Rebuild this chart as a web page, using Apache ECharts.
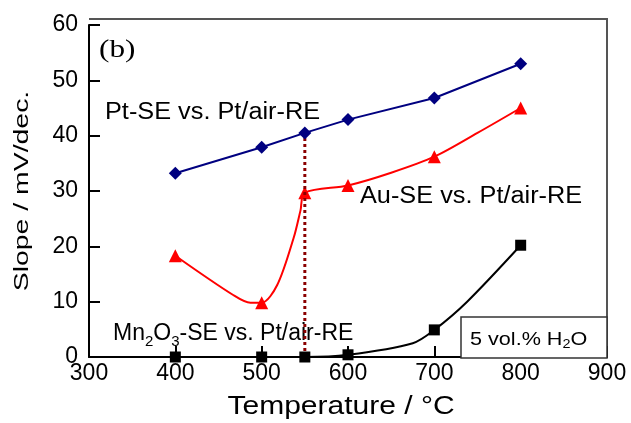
<!DOCTYPE html>
<html>
<head>
<meta charset="utf-8">
<script src="https://cdn.jsdelivr.net/npm/echarts@6/dist/echarts.min.js"></script>
<style>
  html, body { margin: 0; padding: 0; background: #fff; }
  #main { width: 631px; height: 423px; }
</style>
</head>
<body>
<div id="main"></div>
<script>
// measured points
var temps = [400, 500, 550, 600, 700, 800];
var ptSE = [33.2, 37.9, 40.5, 42.9, 46.8, 53.0];
var auSE = [18.3, 9.8, 29.7, 31.0, 36.2, 45.0];
var mnSE = [0.0, 0.0, 0.0, 0.4, 4.9, 20.2];

// extra points (no marker)
var auCurveT = [467, 487, 518, 537, 545, 650, 750];
var auCurveV = [11.2, 9.8, 13.0, 21.5, 26.5, 33.3, 40.5];
var mnCurveT = [675, 738];
var mnCurveV = [2.5, 10.0];

// dotted marker line at 550 C
var dotT = [550, 550];
var dotV = [0, 40.5];

function measured(vals) {
    return temps.map(function (t, i) { return [t, vals[i]]; });
}
function withCurve(vals, ct, cv) {
    var pts = measured(vals).map(function (p) { return { value: p }; });
    ct.forEach(function (t, i) {
        pts.push({ value: [t, cv[i]], symbol: 'none' });
    });
    pts.sort(function (a, b) { return a.value[0] - b.value[0]; });
    return pts;
}

var chartDom = document.getElementById('main');
var myChart = echarts.init(chartDom);
var option;

var font = 'Liberation Sans, Arial, sans-serif';

option = {
    animation: false,
    grid: {
        left: 89,
        right: 24,
        top: 25,
        bottom: 66
    },
    xAxis: {
        type: 'value',
        min: 300,
        max: 900,
        interval: 100,
        axisLine: { lineStyle: { color: '#000', width: 2 } },
        axisTick: { inside: true, length: 11, lineStyle: { color: '#000', width: 2 } },
        axisLabel: { fontFamily: font, fontSize: 23, color: '#000', margin: 5 },
        splitLine: { show: false }
    },
    yAxis: {
        type: 'value',
        min: 0,
        max: 60,
        interval: 10,
        axisLine: { lineStyle: { color: '#000', width: 2 } },
        axisTick: { inside: true, length: 11, lineStyle: { color: '#000', width: 2 } },
        axisLabel: { fontFamily: font, fontSize: 23, color: '#000', margin: 11 },
        splitLine: { show: false }
    },
    series: [
        {
            type: 'line',
            data: dotT.map(function (t, i) { return [t, dotV[i]]; }),
            symbol: 'none',
            lineStyle: { color: '#8B0000', width: 3, type: [3, 3] },
            z: 3
        },
        {
            type: 'line',
            data: measured(ptSE),
            symbol: 'diamond',
            symbolSize: 13,
            itemStyle: { color: '#000080' },
            lineStyle: { color: '#000080', width: 2 },
            clip: false,
            z: 4
        },
        {
            type: 'line',
            data: withCurve(auSE, auCurveT, auCurveV),
            smooth: 0.3,
            symbol: 'triangle',
            symbolSize: 13,
            itemStyle: { color: '#ff0000' },
            lineStyle: { color: '#ff0000', width: 2 },
            clip: false,
            z: 2
        },
        {
            type: 'line',
            data: withCurve(mnSE, mnCurveT, mnCurveV),
            smooth: 0.3,
            symbol: 'rect',
            symbolSize: 11,
            itemStyle: { color: '#000' },
            lineStyle: { color: '#000', width: 2 },
            clip: false,
            z: 5
        }
    ],
    graphic: [
        // plot frame (top and right sides)
        {
            type: 'polyline',
            shape: { points: [[89, 19], [607, 19], [607, 358]] },
            style: { stroke: '#555', lineWidth: 2, fill: null },
            z: 0
        },
        // axis titles
        {
            type: 'text', x: 341, y: 407, scaleX: 1.2,
            style: { text: 'Temperature / °C', font: '25px ' + font, fill: '#000', align: 'center', verticalAlign: 'middle' }
        },
        {
            type: 'text', x: 22, y: 191, rotation: Math.PI / 2, scaleX: 1.42,
            style: { text: 'Slope / mV/dec.', font: '20px ' + font, fill: '#000', align: 'center', verticalAlign: 'middle' }
        },
        // annotations
        {
            type: 'text', x: 99, y: 50, scaleX: 1.2,
            style: { text: '(b)', font: '26px Liberation Serif, Times New Roman, serif', fill: '#000', verticalAlign: 'middle' }
        },
        {
            type: 'text', x: 105, y: 113, scaleX: 1.1,
            style: { text: 'Pt-SE vs. Pt/air-RE', font: '23px ' + font, fill: '#000', verticalAlign: 'middle' }
        },
        {
            type: 'text', x: 360, y: 197, scaleX: 1.1,
            style: { text: 'Au-SE vs. Pt/air-RE', font: '23px ' + font, fill: '#000', verticalAlign: 'middle' }
        },
        {
            type: 'text', x: 113, y: 334,
            style: {
                text: 'Mn{s|2}O{s|3}-SE vs. Pt/air-RE',
                font: '23px ' + font,
                fill: '#000',
                verticalAlign: 'middle',
                rich: {
                    s: { fontSize: 15, fontFamily: font, padding: [16, 0, 0, 0] }
                }
            }
        },
        {
            type: 'rect',
            shape: { x: 461, y: 317, width: 146, height: 41 },
            style: { fill: '#fff', stroke: '#333', lineWidth: 1.5 },
            z: 1
        },
        {
            type: 'text', x: 470, y: 340, scaleX: 1.2,
            style: {
                text: '5 vol.% H{s|2}O',
                font: '18px ' + font,
                fill: '#000',
                verticalAlign: 'middle',
                rich: {
                    s: { fontSize: 12, fontFamily: font, padding: [10, 0, 0, 0] }
                }
            },
            z: 2
        }
    ]
};

option && myChart.setOption(option);
</script>
</body>
</html>
